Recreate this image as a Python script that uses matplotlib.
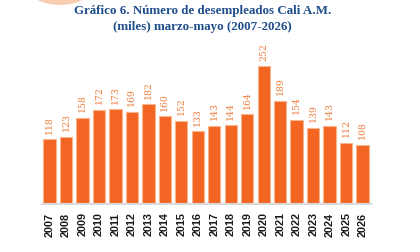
import matplotlib
matplotlib.use('Agg')
import matplotlib.pyplot as plt
from matplotlib.patches import Ellipse

# data
years = ['2007', '2008', '2009', '2010', '2011', '2012', '2013', '2014', '2015', '2016',
         '2017', '2018', '2019', '2020', '2021', '2022', '2023', '2024', '2025', '2026']
desempleados = [118, 123, 158, 172, 173, 169, 182, 160, 152, 133,
                143, 144, 164, 252, 189, 154, 139, 143, 112, 108]

title = 'Gráfico 6. Número de desempleados Cali A.M.\n(miles) marzo-mayo (2007-2026)'

fig = plt.figure(figsize=(4.2, 2.52), dpi=100)

# decorative blob in the top-left corner
blob = Ellipse((0.143, 1.04), 0.143, 0.119, transform=fig.transFigure,
               facecolor='#F9CDB0', edgecolor='none', clip_on=False)
fig.patches.append(blob)

ax = fig.add_axes([0.1, 0.19, 0.783, 0.587])

x = range(len(years))
ax.bar(x, desempleados, width=0.75, color='#F26522', edgecolor='#F8B58E', linewidth=0.8)

for i, v in enumerate(desempleados):
    ax.annotate(str(v), (i, v), xytext=(0, 4), textcoords='offset points',
                ha='center', va='bottom', rotation=90,
                fontsize=6.7, family='DejaVu Serif', color='#EE7B3A')

ax.set_xticks(list(x))
ax.set_xticklabels(years, rotation=90, fontsize=7.8, fontweight='bold',
                   family='Liberation Sans', color='#1a1a1a')
ax.tick_params(axis='x', length=0, pad=6)
ax.set_yticks([])
ax.set_xlim(-0.45, 19.5)
ax.set_ylim(0, 270)

for s in ['top', 'right', 'left']:
    ax.spines[s].set_visible(False)
ax.spines['bottom'].set_color('#D9D9D9')
ax.spines['bottom'].set_linewidth(1.5)

fig.text(0.483, 0.98, title, ha='center', va='top', fontsize=9.4,
         fontweight='bold', family='Liberation Serif', color='#1F4E8C',
         linespacing=1.45)

fig.savefig('out.png', dpi=100)
